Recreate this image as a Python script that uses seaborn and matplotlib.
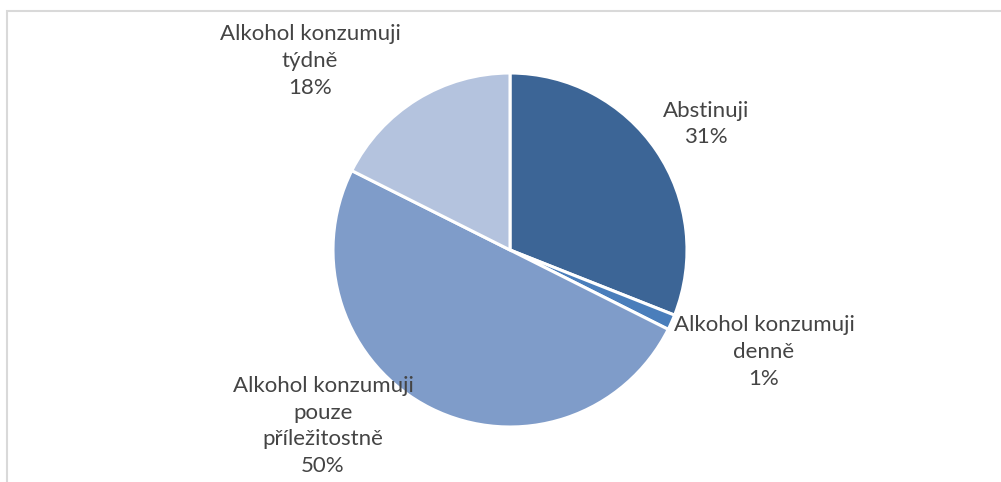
import matplotlib
matplotlib.use("Agg")
import matplotlib.pyplot as plt
import seaborn as sns
from matplotlib.patches import Rectangle

# data (clockwise from 12 o'clock)
categories = ["Abstinuji", "Alkohol konzumuji\ndenně",
              "Alkohol konzumuji\npouze\npříležitostně", "Alkohol konzumuji\ntýdně"]
shares = [31.0, 1.4, 50.0, 17.6]
colors = ["#3C6596", "#4A7EBB", "#7F9CC9", "#B4C3DE"]

sns.set_theme(style="white")
plt.rcParams["font.family"] = ["Lato", "DejaVu Sans"]

fig = plt.figure(figsize=(10.01, 4.82), dpi=100)

# light grey chart-area frame (top and left visible)
fig.patches.append(Rectangle((7 / 1001, -0.1), 1.2, 471 / 482 + 0.1,
                             transform=fig.transFigure, fill=False,
                             edgecolor="#D9D9D9", linewidth=1.5))

cx, cy, r = 510, 250, 177
ax = fig.add_axes([(cx - r) / 1001, (482 - cy - r) / 482, 2 * r / 1001, 2 * r / 482])
wedges, _ = ax.pie(shares, colors=colors, startangle=90, counterclock=False,
                   wedgeprops=dict(edgecolor="white", linewidth=2.2))
ax.set_xlim(-1, 1)
ax.set_ylim(-1, 1)
ax.set_aspect("equal")

# label anchors (pixel centres of the text blocks)
label_pos = [(706, 124), (764, 352), (323, 426), (310, 61)]
for name, val, (px, py) in zip(categories, shares, label_pos):
    ax.text((px - cx) / r, (cy - py) / r, f"{name}\n{round(val)}%",
            ha="center", va="center", fontsize=16, color="#444444",
            linespacing=1.42, clip_on=False)

fig.savefig("out.png", dpi=100)
